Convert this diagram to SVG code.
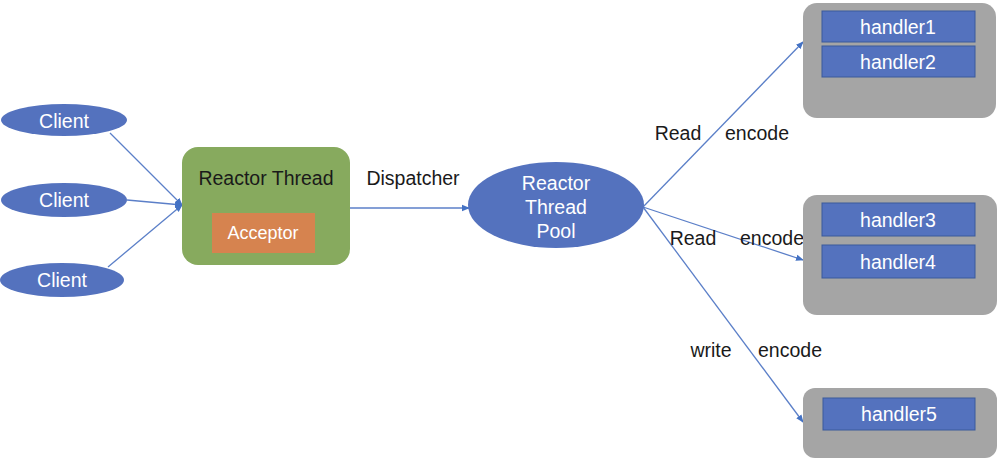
<svg xmlns="http://www.w3.org/2000/svg" width="1000" height="462" viewBox="0 0 1000 462">
<defs>
<marker id="ah" markerWidth="8" markerHeight="8" refX="7" refY="4" orient="auto" markerUnits="userSpaceOnUse">
<path d="M0,0.8 L8,4 L0,7.2 Z" fill="#4472C4"/>
</marker>
<style>
.t{font-family:"Liberation Sans",Arial,sans-serif;font-size:19.5px;text-anchor:middle;dominant-baseline:central}
.w{fill:#ffffff}
.k{fill:#1a1a1a}
.blue{fill:#5472BE}
.gray{fill:#A5A5A5}
.hd{fill:#5472BE;stroke:#3A5A9C;stroke-width:1}
.c{stroke:#5B7FC8;stroke-width:1.3;fill:none;marker-end:url(#ah)}
</style>
</defs>
<rect width="1000" height="462" fill="#ffffff"/>
<g id="connectors">
<line class="c" x1="110" y1="133" x2="182" y2="205"/>
<line class="c" x1="127" y1="200" x2="182" y2="205"/>
<line class="c" x1="108" y1="267" x2="182" y2="205"/>
<line class="c" x1="350" y1="208" x2="469" y2="208"/>
<line class="c" x1="643" y1="207" x2="803" y2="42"/>
<line class="c" x1="643" y1="207" x2="803" y2="260"/>
<line class="c" x1="643" y1="207" x2="803" y2="422"/>
<text class="t k" x="678" y="133">Read</text>
<text class="t k" x="757" y="133">encode</text>
<text class="t k" x="693" y="238">Read</text>
<text class="t k" x="772" y="238">encode</text>
<text class="t k" x="711" y="350">write</text>
<text class="t k" x="790" y="350">encode</text>
<text class="t k" x="413" y="178">Dispatcher</text>
</g>
<g id="client1">
<ellipse class="blue" cx="64" cy="120" rx="63" ry="16"/>
<text class="t w" x="64" y="121">Client</text>
</g>
<g id="client2">
<ellipse class="blue" cx="64" cy="200" rx="63" ry="17"/>
<text class="t w" x="64" y="200">Client</text>
</g>
<g id="client3">
<ellipse class="blue" cx="62" cy="280" rx="62" ry="17"/>
<text class="t w" x="62" y="280">Client</text>
</g>
<g id="reactor-thread">
<rect x="182" y="147" width="168" height="118" rx="16" fill="#87AA5E"/>
<text class="t k" x="266" y="178">Reactor Thread</text>
<g id="acceptor">
<rect x="212" y="213" width="103" height="40" fill="#D6834F"/>
<text class="t w" x="263" y="233" style="font-size:18px">Acceptor</text>
</g>
</g>
<g id="reactor-pool">
<ellipse class="blue" cx="556" cy="205" rx="88" ry="43"/>
<text class="t w" x="556" y="183">Reactor</text>
<text class="t w" x="556" y="207">Thread</text>
<text class="t w" x="556" y="231">Pool</text>
</g>
<g id="group1">
<rect class="gray" x="803" y="3" width="193" height="115" rx="14"/>
<g id="handler1"><rect class="hd" x="822" y="11" width="153" height="31"/><text class="t w" x="898" y="27">handler1</text></g>
<g id="handler2"><rect class="hd" x="822" y="46" width="153" height="31"/><text class="t w" x="898" y="62">handler2</text></g>
</g>
<g id="group2">
<rect class="gray" x="803" y="195" width="194" height="120" rx="14"/>
<g id="handler3"><rect class="hd" x="822" y="203" width="153" height="33"/><text class="t w" x="898" y="220">handler3</text></g>
<g id="handler4"><rect class="hd" x="822" y="245" width="153" height="33"/><text class="t w" x="898" y="262">handler4</text></g>
</g>
<g id="group3">
<rect class="gray" x="803" y="388" width="194" height="70" rx="12"/>
<g id="handler5"><rect class="hd" x="823" y="398" width="152" height="32"/><text class="t w" x="899" y="414">handler5</text></g>
</g>
</svg>
